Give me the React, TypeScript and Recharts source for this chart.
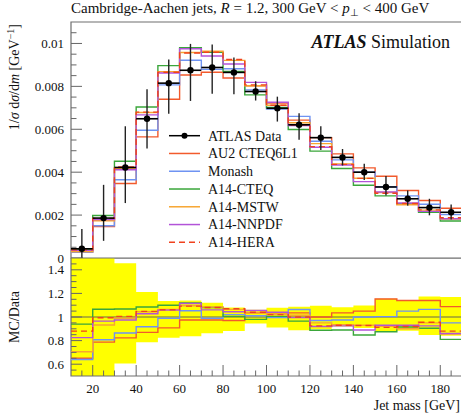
import React from 'react';
import {
  ComposedChart,
  Line,
  Scatter,
  ErrorBar,
  XAxis,
  YAxis,
  Area,
  ReferenceArea,
  ReferenceLine,
  Legend,
} from 'recharts';

// ---- binning (jet mass, GeV) ----
const binEdges = [10, 20, 30, 40, 50, 60, 70, 80, 90, 100, 110, 120, 130, 140, 150, 160, 170, 180, 190];

// ---- ATLAS data: 1/sigma dsigma/dm [GeV^-1] with asymmetric uncertainties ----
const dataValues = [0.00043, 0.00186, 0.00422, 0.00649, 0.00815, 0.00875, 0.00888, 0.00865, 0.00776, 0.00698, 0.00621, 0.00561, 0.00469, 0.0040, 0.00331, 0.00276, 0.00235, 0.00213];
const dataErrUp = [0.00092, 0.00155, 0.00192, 0.00137, 0.0011, 0.00123, 0.00107, 0.0007, 0.00048, 0.00054, 0.00054, 0.00053, 0.00039, 0.00039, 0.00051, 0.00039, 0.00041, 0.00036];
const dataErrDown = [0.00043, 0.00106, 0.00166, 0.00139, 0.00143, 0.00143, 0.00123, 0.00102, 0.00042, 0.00062, 0.0007, 0.00058, 0.00038, 0.00037, 0.0004, 0.00032, 0.00036, 0.00034];

// ---- MC / Data ratios per tune ----
const ratioAU2 = [0.65, 0.787, 0.823, 0.87, 0.908, 0.975, 0.975, 0.97, 1.035, 1.035, 1.035, 1.0, 1.035, 1.05, 1.152, 1.14, 1.14, 1.088];
const ratioMonash = [0.64, 0.807, 0.865, 0.918, 0.99, 1.053, 0.99, 1.02, 1.01, 0.995, 1.063, 0.97, 0.975, 1.0, 1.003, 1.05, 1.065, 0.95];
const ratioCTEQ = [0.94, 1.066, 1.068, 1.085, 1.1, 1.12, 1.08, 1.005, 0.98, 1.005, 0.965, 0.888, 0.89, 0.848, 0.875, 0.915, 0.905, 0.81];
const ratioMSTW = [0.705, 0.932, 0.99, 1.045, 1.065, 1.095, 1.085, 1.065, 1.035, 1.02, 1.015, 0.95, 0.935, 0.93, 0.922, 0.9, 0.95, 0.855];
const ratioNNPDF = [0.825, 0.965, 0.975, 1.028, 1.058, 1.115, 1.06, 1.045, 1.055, 1.04, 0.995, 0.92, 0.925, 0.89, 0.93, 0.93, 0.925, 0.86];
const ratioHERA = [0.88, 0.994, 1.005, 1.048, 1.062, 1.092, 1.08, 1.07, 1.04, 1.02, 1.0, 0.925, 0.93, 0.928, 0.912, 0.92, 0.955, 0.88];

const seriesKeys = ['au2', 'monash', 'cteq', 'mstw', 'nnpdf', 'hera'];
const seriesNames = ['AU2 CTEQ6L1', 'Monash', 'A14-CTEQ', 'A14-MSTW', 'A14-NNPDF', 'A14-HERA'];
const seriesColors = ['#f25a2c', '#6f93f2', '#3aa63a', '#f7a632', '#b253d8', '#f0421e'];
const seriesDashed = [false, false, false, false, false, true];
const seriesRatios = [ratioAU2, ratioMonash, ratioCTEQ, ratioMSTW, ratioNNPDF, ratioHERA];
const dataName = 'ATLAS Data';

// ---- axes ----
const xDomain = [10, 190];
const xMajorTicks = [20, 40, 60, 80, 100, 120, 140, 160, 180];
const xTickLabels = ['20', '40', '60', '80', '100', '120', '140', '160', '180'];
const xMinorStep = 5;

const topDomain = [0, 0.011];
const topMajorTicks = [0, 0.002, 0.004, 0.006, 0.008, 0.01];
const topTickLabels = ['0', '0.002', '0.004', '0.006', '0.008', '0.01'];
const topMinorStep = 0.0005;

const ratioDomain = [0.5, 1.5];
const ratioMajorTicks = [0.6, 0.8, 1.0, 1.2, 1.4];
const ratioTickLabels = ['0.6', '0.8', '1', '1.2', '1.4'];
const ratioMinorStep = 0.05;

const titleText = 'Cambridge-Aachen jets,';
const xTitle = 'Jet mass [GeV]';
const ratioTitle = 'MC/Data';

const FONT = "'Liberation Serif', 'Times New Roman', serif";
const TICK_COLOR = '#666';
const FRAME_COLOR = '#6e6e6e';

// ---- derived tables ----
const nBins = dataValues.length;
const stepIndex = (i: number) => Math.min(i, nBins - 1);

const topRows = binEdges.map((x, i) => {
  const j = stepIndex(i);
  const row: Record<string, number> = { x };
  seriesKeys.forEach((k, s) => {
    row[k] = seriesRatios[s][j] * dataValues[j];
  });
  return row;
});

const ratioRows = binEdges.map((x, i) => {
  const j = stepIndex(i);
  const row: Record<string, any> = { x };
  row.band = [1 - dataErrDown[j] / dataValues[j], 1 + dataErrUp[j] / dataValues[j]];
  seriesKeys.forEach((k, s) => {
    row[k] = seriesRatios[s][j];
  });
  return row;
});

const dataPoints = dataValues.map((v, j) => ({
  x: (binEdges[j] + binEdges[j + 1]) / 2,
  y: v,
  xErr: (binEdges[j + 1] - binEdges[j]) / 2,
  yErr: [dataErrDown[j], dataErrUp[j]],
}));

const makeTicks = (lo: number, hi: number, step: number) => {
  const out: number[] = [];
  const n = Math.round((hi - lo) / step);
  for (let i = 1; i < n; i++) out.push(+(lo + i * step).toFixed(6));
  return out;
};

const xTicks = makeTicks(xDomain[0], xDomain[1], xMinorStep);
const topYTicks = [0, ...makeTicks(topDomain[0], topDomain[1], topMinorStep)];
const ratioYTicks = makeTicks(ratioDomain[0], ratioDomain[1], ratioMinorStep);

const findMajor = (majors: number[], v: number) =>
  majors.findIndex((m) => Math.abs(m - v) < 1e-7);

// Left-axis tick: inward tick mark plus optional label
const YTick = (props: any) => {
  const { x, y, payload, majors, labels } = props;
  const idx = findMajor(majors, payload.value);
  const major = idx >= 0;
  return (
    <g>
      <line x1={x} x2={x + (major ? 11 : 5.5)} y1={y} y2={y} stroke={TICK_COLOR} strokeWidth={1} />
      {major && (
        <text x={x - 7} y={y} dy="0.35em" textAnchor="end" fontSize={13} fontFamily={FONT} fill="#111">
          {labels[idx]}
        </text>
      )}
    </g>
  );
};

// Bottom-axis tick: inward tick mark plus optional label
const XTick = (props: any) => {
  const { x, y, payload, showLabels } = props;
  const idx = findMajor(xMajorTicks, payload.value);
  const major = idx >= 0;
  return (
    <g>
      <line x1={x} x2={x} y1={y} y2={y - (major ? 11 : 5.5)} stroke={TICK_COLOR} strokeWidth={1} />
      {major && showLabels && (
        <text x={x} y={y + 17} textAnchor="middle" fontSize={13} fontFamily={FONT} fill="#111">
          {xTickLabels[idx]}
        </text>
      )}
    </g>
  );
};

const LegendBox = () => {
  const rowH = 17.77;
  const y0 = 10.7;
  return (
    <svg width={220} height={135} style={{ overflow: 'visible' }}>
      <g>
        <line x1={9} x2={40} y1={y0} y2={y0} stroke="#000" strokeWidth={1.5} />
        <circle cx={24.5} cy={y0} r={3} fill="#000" />
        <text x={48} y={y0} dy="0.35em" fontSize={14} fontFamily={FONT} fill="#111">
          {dataName}
        </text>
      </g>
      {seriesNames.map((name, i) => {
        const yy = y0 + (i + 1) * rowH;
        return (
          <g key={name}>
            <line
              x1={9}
              x2={40}
              y1={yy}
              y2={yy}
              stroke={seriesColors[i]}
              strokeWidth={1.5}
              strokeDasharray={seriesDashed[i] ? '6 4' : undefined}
            />
            <text x={48} y={yy} dy="0.35em" fontSize={14} fontFamily={FONT} fill="#111">
              {name}
            </text>
          </g>
        );
      })}
    </svg>
  );
};

const renderSeries = (rowsKeyPrefix: string) =>
  seriesKeys.map((k, s) => (
    <Line
      key={rowsKeyPrefix + k}
      type="stepAfter"
      dataKey={k}
      name={seriesNames[s]}
      stroke={seriesColors[s]}
      strokeWidth={1.4}
      strokeDasharray={seriesDashed[s] ? '6 4' : undefined}
      dot={false}
      activeDot={false}
      isAnimationActive={false}
    />
  ));

const CHART_W = 462;

export default function App() {
  return (
    <div
      style={{
        position: 'absolute',
        left: 0,
        top: 0,
        width: 461,
        height: 417,
        background: '#fff',
        overflow: 'hidden',
      }}
    >
      {/* main distribution panel */}
      <div style={{ position: 'absolute', left: 0, top: 0 }}>
        <ComposedChart width={CHART_W} height={266} data={topRows} margin={{ top: 22, right: 0, bottom: 8, left: 0 }}>
          <XAxis
            type="number"
            dataKey="x"
            domain={xDomain}
            allowDataOverflow
            ticks={xTicks}
            interval={0}
            tickSize={0}
            tickMargin={0}
            axisLine={false}
            tickLine={false}
            height={0}
            tick={(p: any) => <XTick {...p} showLabels={false} />}
          />
          <YAxis
            type="number"
            domain={topDomain}
            allowDataOverflow
            ticks={topYTicks}
            interval={0}
            tickSize={0}
            tickMargin={0}
            axisLine={false}
            tickLine={false}
            width={71}
            tick={(p: any) => <YTick {...p} majors={topMajorTicks} labels={topTickLabels} />}
          />
          {renderSeries('top-')}
          <Scatter
            data={dataPoints}
            dataKey="y"
            name={dataName}
            isAnimationActive={false}
            shape={(p: any) => <circle cx={p.cx} cy={p.cy} r={3.2} fill="#000" />}
          >
            <ErrorBar dataKey="yErr" direction="y" width={0} stroke="#222" strokeWidth={1.4} />
            <ErrorBar dataKey="xErr" direction="x" width={0} stroke="#000" strokeWidth={1.6} />
          </Scatter>
          <ReferenceArea
            x1={xDomain[0]}
            x2={xDomain[1]}
            y1={topDomain[0]}
            y2={topDomain[1]}
            fill="none"
            stroke={FRAME_COLOR}
            strokeWidth={1.2}
            ifOverflow="visible"
          />
          <Legend
            layout="vertical"
            align="center"
            verticalAlign="middle"
            wrapperStyle={{ left: 160, top: 125, width: 220, height: 135 }}
            content={() => <LegendBox />}
          />
        </ComposedChart>
      </div>

      {/* MC / Data ratio panel */}
      <div style={{ position: 'absolute', left: 0, top: 258 }}>
        <ComposedChart width={CHART_W} height={159} data={ratioRows} margin={{ top: 0, right: 0, bottom: 0, left: 0 }}>
          <XAxis
            type="number"
            dataKey="x"
            domain={xDomain}
            allowDataOverflow
            ticks={xTicks}
            interval={0}
            tickSize={0}
            tickMargin={0}
            axisLine={false}
            tickLine={false}
            height={41}
            tick={(p: any) => <XTick {...p} showLabels />}
          />
          <YAxis
            type="number"
            domain={ratioDomain}
            allowDataOverflow
            ticks={ratioYTicks}
            interval={0}
            tickSize={0}
            tickMargin={0}
            axisLine={false}
            tickLine={false}
            width={71}
            tick={(p: any) => <YTick {...p} majors={ratioMajorTicks} labels={ratioTickLabels} />}
          />
          <Area
            type="stepAfter"
            dataKey="band"
            stroke="none"
            fill="#ffff00"
            fillOpacity={1}
            isAnimationActive={false}
            activeDot={false}
          />
          <ReferenceLine y={1} stroke="#555" strokeOpacity={0.6} strokeWidth={1.3} />
          {renderSeries('ratio-')}
          <ReferenceArea
            x1={xDomain[0]}
            x2={xDomain[1]}
            y1={ratioDomain[0]}
            y2={ratioDomain[1]}
            fill="none"
            stroke={FRAME_COLOR}
            strokeWidth={1.2}
            ifOverflow="visible"
          />
        </ComposedChart>
      </div>

      {/* titles */}
      <svg
        width={461}
        height={417}
        style={{ position: 'absolute', left: 0, top: 0, pointerEvents: 'none' }}
      >
        <text x={71} y={13} fontSize={15} fontFamily={FONT} fill="#111">
          {titleText} <tspan fontStyle="italic">R</tspan> = 1.2, 300 GeV &lt;{' '}
          <tspan fontStyle="italic">p</tspan>
          <tspan fontSize={10} dy={3}>⊥</tspan>
          <tspan dy={-3}> &lt; 400 GeV</tspan>
        </text>
        <text x={450} y={48} textAnchor="end" fontSize={18} fontFamily={FONT} fill="#111">
          <tspan fontWeight="bold" fontStyle="italic">ATLAS</tspan> Simulation
        </text>
        <text transform="rotate(-90)" x={-24} y={19} textAnchor="end" fontSize={14} fontFamily={FONT} fill="#111">
          1/<tspan fontStyle="italic">σ</tspan> d<tspan fontStyle="italic">σ</tspan>/d
          <tspan fontStyle="italic">m</tspan> [GeV
          <tspan fontSize={10} dy={-5}>−1</tspan>
          <tspan dy={5}>]</tspan>
        </text>
        <text transform="rotate(-90)" x={-317} y={19} textAnchor="middle" fontSize={14} fontFamily={FONT} fill="#111">
          {ratioTitle}
        </text>
        <text x={460} y={410} textAnchor="end" fontSize={14} fontFamily={FONT} fill="#111">
          {xTitle}
        </text>
      </svg>
    </div>
  );
}
